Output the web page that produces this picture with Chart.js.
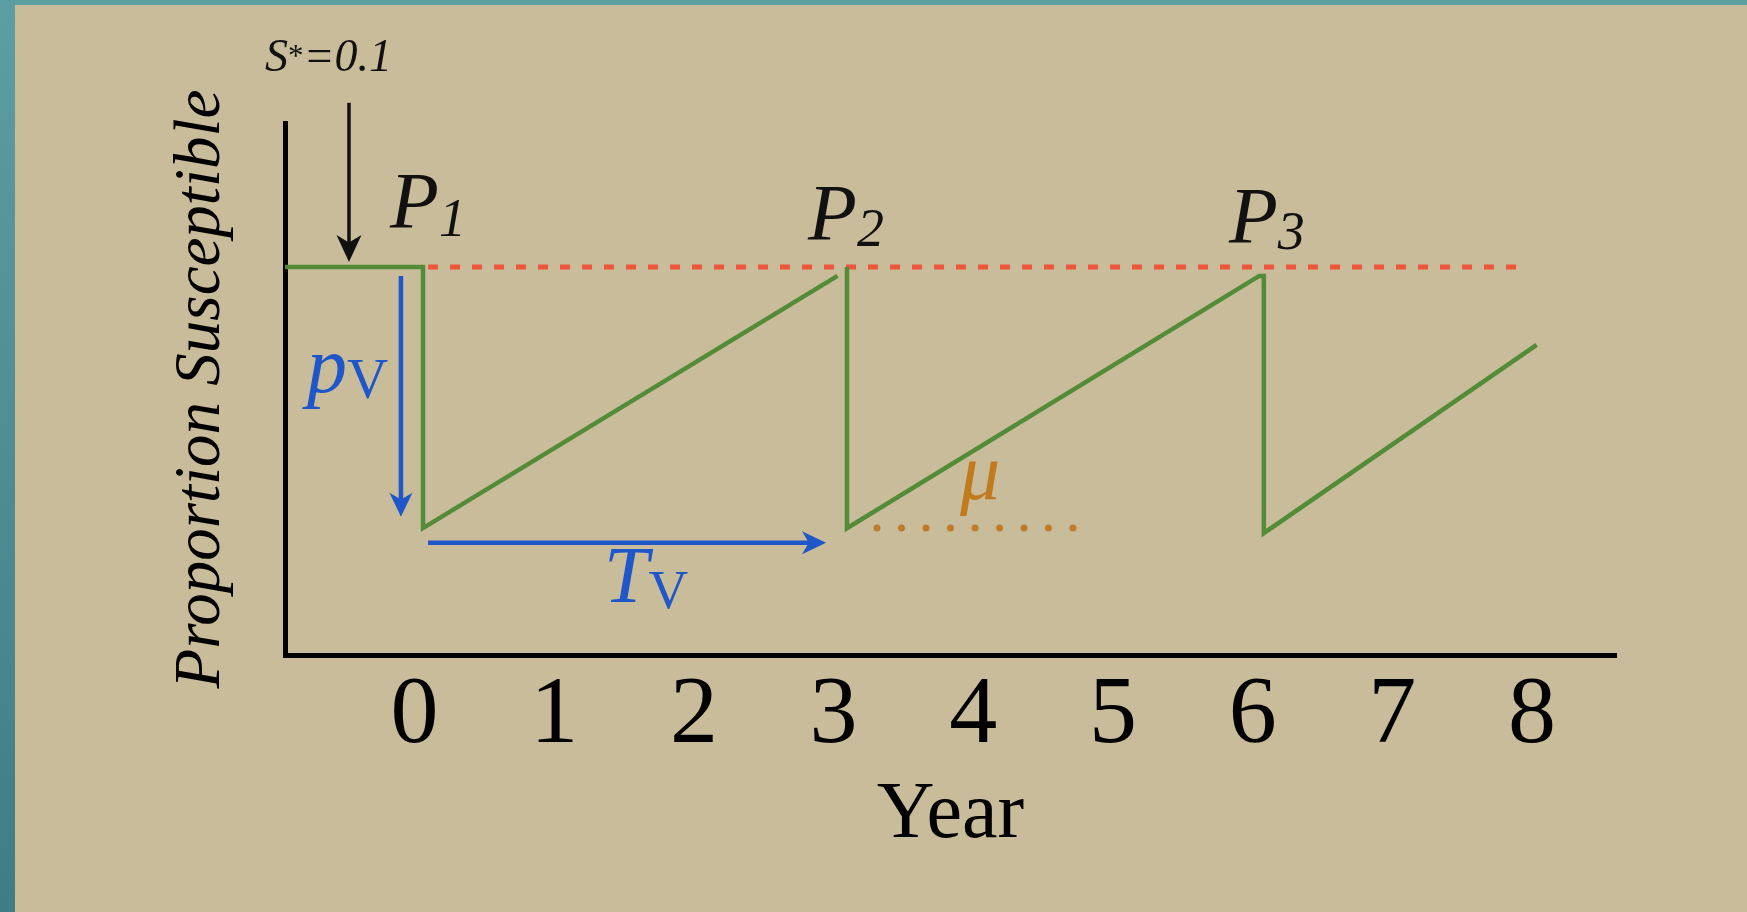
<!DOCTYPE html>
<html>
<head>
<meta charset="utf-8">
<script src="https://cdn.jsdelivr.net/npm/chart.js@4"></script>
<style>
  html, body { margin: 0; padding: 0; overflow: hidden; }
  body { width: 1747px; height: 912px; position: relative; background: linear-gradient(180deg, #5d9ea2, #3e7d84); }
  #panel { position: absolute; left: 15px; top: 5px; width: 1732px; height: 907px; background: #c8bc9b; }
</style>
</head>
<body>
<div id="panel"><canvas id="chart"></canvas></div>
<script>
const serif = '"Liberation Serif", "Times New Roman", serif';

// tick labels and axis limits
const yearTicks = [0, 1, 2, 3, 4, 5, 6, 7, 8];
const xRange = [-0.927, 8.601];
const yRange = [0, 0.1371];

// proportion susceptible (green saw-tooth), null = pen lifted
const greenX = [-0.927, 0.061, 0.061, 3.028, 3.06, 3.096, 3.096, 6.047, 6.080, 6.080, 8.033];
const greenY = [0.1, 0.1, 0.0327, 0.0977, null, 0.1, 0.0327, 0.0977, 0.0977, 0.0314, 0.0799];

// threshold S* (red dashed)
const thresholdX = [0.097, 7.97];
const thresholdY = [0.1, 0.1];

// birth rate mu reference (orange dotted)
const muX = [3.311, 4.735];
const muY = [0.0327, 0.0327];

const toPoints = (xs, ys) => xs.map((x, i) => ({ x: x, y: ys[i] }));

// arrows and labels, in data units
const arrows = [
  { from: [-0.469, 0.1423], to: [-0.469, 0.1013], color: '#111', width: 3.5, headLen: 27, headW: 25 },
  { from: [-0.097, 0.0977], to: [-0.097, 0.0356], color: '#1f56c9', width: 4.5, headLen: 24, headW: 23 },
  { from: [0.097, 0.0289], to: [2.946, 0.0289], color: '#1f56c9', width: 4.5, headLen: 24, headW: 23 }
];

const labels = [
  { at: [-1.070, 0.1505], color: '#111', parts: [['S', 'italic', 46, 0], ['*', 'normal', 31, -5], ['=0.1', 'italic', 46, 0]] },
  { at: [-0.175, 0.1101], color: '#111', parts: [['P', 'italic', 80, 0], ['1', 'italic', 54, 8]] },
  { at: [2.817, 0.1070], color: '#111', parts: [['P', 'italic', 80, 0], ['2', 'italic', 54, 6]] },
  { at: [5.830, 0.1062], color: '#111', parts: [['P', 'italic', 80, 0], ['3', 'italic', 54, 6]] },
  { at: [-0.7695, 0.0678], color: '#1f56c9', parts: [['p', 'italic', 80, 0], ['V', 'normal', 57, 6]] },
  { at: [1.3565, 0.01366], color: '#1f56c9', parts: [['T', 'italic', 80, 0], ['V', 'normal', 55, 6]] },
  { at: [3.905, 0.0402], color: '#c27a1f', parts: [['\u03bc', 'italic', 80, 0]] }
];

const annotate = {
  id: 'annotate',
  afterDatasetsDraw(chart) {
    const ctx = chart.ctx;
    const xs = chart.scales.x, ys = chart.scales.y;
    ctx.save();
    arrows.forEach(a => {
      const x1 = xs.getPixelForValue(a.from[0]), y1 = ys.getPixelForValue(a.from[1]);
      const x2 = xs.getPixelForValue(a.to[0]), y2 = ys.getPixelForValue(a.to[1]);
      const len = Math.hypot(x2 - x1, y2 - y1);
      const ux = (x2 - x1) / len, uy = (y2 - y1) / len;
      ctx.strokeStyle = a.color;
      ctx.fillStyle = a.color;
      ctx.lineWidth = a.width;
      ctx.beginPath();
      ctx.moveTo(x1, y1);
      ctx.lineTo(x2 - ux * a.headLen * 0.7, y2 - uy * a.headLen * 0.7);
      ctx.stroke();
      const bx = x2 - ux * a.headLen, by = y2 - uy * a.headLen;
      ctx.beginPath();
      ctx.moveTo(x2, y2);
      ctx.lineTo(bx - uy * a.headW / 2, by + ux * a.headW / 2);
      ctx.lineTo(x2 - ux * a.headLen * 0.72, y2 - uy * a.headLen * 0.72);
      ctx.lineTo(bx + uy * a.headW / 2, by - ux * a.headW / 2);
      ctx.closePath();
      ctx.fill();
    });
    ctx.textBaseline = 'alphabetic';
    ctx.textAlign = 'left';
    labels.forEach(l => {
      let x = xs.getPixelForValue(l.at[0]);
      const y = ys.getPixelForValue(l.at[1]);
      ctx.fillStyle = l.color;
      l.parts.forEach(p => {
        ctx.font = p[1] + ' ' + p[2] + 'px ' + serif;
        ctx.fillText(p[0], x, y + p[3]);
        x += ctx.measureText(p[0]).width;
      });
    });
    ctx.restore();
  }
};

new Chart(document.getElementById('chart'), {
  type: 'line',
  data: {
    datasets: [
      {
        data: toPoints(greenX, greenY),
        borderColor: '#538b37',
        borderWidth: 4.5,
        pointRadius: 0,
        spanGaps: false,
        tension: 0
      },
      {
        data: toPoints(thresholdX, thresholdY),
        borderColor: '#ee553a',
        borderWidth: 5,
        borderDash: [10, 12],
        pointRadius: 0
      },
      {
        data: toPoints(muX, muY),
        borderColor: '#c07a28',
        borderWidth: 7,
        borderDash: [0, 24.5],
        borderCapStyle: 'round',
        pointRadius: 0
      }
    ]
  },
  options: {
    responsive: true,
    maintainAspectRatio: false,
    animation: false,
    layout: { padding: { left: 0, top: 118, right: 131, bottom: 0 } },
    plugins: { legend: { display: false }, tooltip: { enabled: false } },
    scales: {
      x: {
        type: 'linear',
        min: xRange[0],
        max: xRange[1],
        grid: { display: false, drawTicks: false },
        border: { display: true, color: '#000', width: 5 },
        afterBuildTicks: s => { s.ticks = yearTicks.map(v => ({ value: v })); },
        afterFit: s => { s.height = 257; },
        ticks: { color: '#000', font: { family: serif, size: 96 }, padding: 4, autoSkip: false, maxRotation: 0 },
        title: { display: true, text: 'Year', color: '#000', font: { family: serif, size: 80 }, padding: { top: 0, bottom: 48 } }
      },
      y: {
        min: yRange[0],
        max: yRange[1],
        ticks: { display: false },
        grid: { display: false, drawTicks: false },
        border: { display: true, color: '#000', width: 5 },
        afterFit: s => { s.width = 270; },
        title: { display: true, text: 'Proportion Susceptible', color: '#000', font: { family: serif, size: 65, style: 'italic' }, padding: { top: 148, bottom: 0 } }
      }
    }
  },
  plugins: [annotate]
});
</script>
</body>
</html>
